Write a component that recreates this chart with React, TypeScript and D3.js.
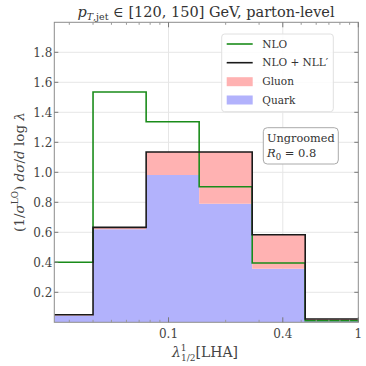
import React from "react";
import * as d3 from "d3";

const binEdges = [0.025, 0.04, 0.0762, 0.145, 0.276, 0.525, 1];
const nloValues = [0.4, 1.535, 1.337, 0.904, 0.395, 0.01];
const nllValues = [0.05, 0.633, 1.135, 1.135, 0.584, 0.022];
const quarkValues = [0.045, 0.62, 0.982, 0.79, 0.357, 0.015];
const gluonValues = [0.005, 0.013, 0.153, 0.345, 0.227, 0.007];
const yTicks = [0.2, 0.4, 0.6, 0.8, 1.0, 1.2, 1.4, 1.6, 1.8];
const xMajorTicks = [0.1, 0.4, 1];
const xTickLabels = ["0.1", "0.4", "1"];
const xMinorTicks = [0.03, 0.04, 0.05, 0.06, 0.07, 0.08, 0.09, 0.2, 0.3, 0.5, 0.6, 0.7, 0.8, 0.9];

const W = 366, H = 366;
const M = { left: 54.3, right: 358.3, top: 22.3, bottom: 322.3 };
const FONT = "DejaVu Serif";

export default function App() {
  const x = d3.scaleLog().domain([0.025, 1]).range([M.left, M.right]);
  const y = d3.scaleLinear().domain([0, 2.0]).range([M.bottom, M.top]);

  type P = { e: number; v: number; b?: number };
  const stepPts = (vals: number[], base?: number[]): P[] => {
    const pts: P[] = vals.map((v, i) => ({ e: binEdges[i], v, b: base ? base[i] : 0 }));
    pts.push({ e: binEdges[binEdges.length - 1], v: vals[vals.length - 1], b: base ? base[base.length - 1] : 0 });
    return pts;
  };
  const line = d3.line<P>().x(d => x(d.e)).y(d => y(d.v)).curve(d3.curveStepAfter);
  const area = d3.area<P>().x(d => x(d.e)).y0(d => y(d.b || 0)).y1(d => y(d.v)).curve(d3.curveStepAfter);

  const stackedTop = quarkValues.map((q, i) => q + gluonValues[i]);
  const ts = { fontFamily: FONT };

  return (
    <svg width={W} height={H} style={{ position: "absolute", left: 0, top: 0, fontFamily: FONT }}>
      <rect x={0} y={0} width={W} height={H} fill="#fff" />
      <defs>
        <clipPath id="plotclip">
          <rect x={M.left} y={M.top} width={M.right - M.left} height={M.bottom - M.top} />
        </clipPath>
      </defs>
      {yTicks.map(t => (
        <line key={"gy" + t} x1={M.left} x2={M.right} y1={y(t)} y2={y(t)} stroke="#e6e6e6" strokeWidth={1} />
      ))}
      {xMajorTicks.slice(0, 2).map(t => (
        <line key={"gx" + t} x1={x(t)} x2={x(t)} y1={M.top} y2={M.bottom} stroke="#e6e6e6" strokeWidth={1} />
      ))}
      <g clipPath="url(#plotclip)">
        <path d={area(stepPts(quarkValues)) || ""} fill="rgb(178,178,252)" />
        <path d={area(stepPts(stackedTop, quarkValues)) || ""} fill="rgb(255,178,178)" />
        <path d={line(stepPts(nloValues)) || ""} fill="none" stroke="#1a8c1a" strokeWidth={1.6} />
        <path d={line(stepPts(nllValues)) || ""} fill="none" stroke="#1a1a1a" strokeWidth={1.6} />
      </g>
      <rect x={M.left} y={M.top} width={M.right - M.left} height={M.bottom - M.top} fill="none" stroke="#8c8c8c" strokeWidth={1} />
      {yTicks.map(t => (
        <g key={"yt" + t}>
          <line x1={M.left} x2={M.left + 4} y1={y(t)} y2={y(t)} stroke="#777" />
          <line x1={M.right} x2={M.right - 4} y1={y(t)} y2={y(t)} stroke="#777" />
          <text style={ts} x={M.left - 2} y={y(t)} dy="0.35em" textAnchor="end" fontSize={12} fill="#444">{t.toFixed(1)}</text>
        </g>
      ))}
      {xMajorTicks.map((t, i) => (
        <g key={"xt" + t}>
          <line x1={x(t)} x2={x(t)} y1={M.bottom} y2={M.bottom - 5} stroke="#777" />
          <line x1={x(t)} x2={x(t)} y1={M.top} y2={M.top + 5} stroke="#777" />
          <text style={ts} x={x(t)} y={M.bottom + 16} textAnchor="middle" fontSize={12} fill="#444">{xTickLabels[i]}</text>
        </g>
      ))}
      {xMinorTicks.map(t => (
        <g key={"xm" + t}>
          <line x1={x(t)} x2={x(t)} y1={M.bottom} y2={M.bottom - 2.5} stroke="#999" />
          <line x1={x(t)} x2={x(t)} y1={M.top} y2={M.top + 2.5} stroke="#999" />
        </g>
      ))}
      <text style={ts} x={206} y={17} textAnchor="middle" fontSize={14.5} fill="#333">
        <tspan fontStyle="italic">p</tspan>
        <tspan fontSize={9.5} dy={3}><tspan fontStyle="italic">T</tspan>,jet</tspan>
        <tspan dy={-3}> ∈ [120, 150] GeV, parton-level</tspan>
      </text>
      <text style={ts} x={205} y={357} textAnchor="middle" fontSize={14} fill="#444">
        <tspan fontStyle="italic">λ</tspan>
        <tspan fontSize={9} dy={-6}>1</tspan>
        <tspan fontSize={9} dx={-5.5} dy={10}>1/2</tspan>
        <tspan dy={-4}>[LHA]</tspan>
      </text>
      <text style={ts} transform={`translate(24,172) rotate(-90)`} textAnchor="middle" fontSize={13.5} fill="#444">
        <tspan>(1/</tspan>
        <tspan fontStyle="italic">σ</tspan>
        <tspan fontSize={9} dy={-6}>LO</tspan>
        <tspan dy={6}>) </tspan>
        <tspan fontStyle="italic">dσ</tspan>
        <tspan>/</tspan>
        <tspan fontStyle="italic">d</tspan>
        <tspan> log </tspan>
        <tspan fontStyle="italic">λ</tspan>
      </text>
      <rect x={221.7} y={34} width={111.6} height={77.7} rx={3} fill="rgba(255,255,255,0.85)" stroke="#e0e0e0" />
      <line x1={226.7} x2={252.7} y1={44} y2={44} stroke="#1a8c1a" strokeWidth={1.6} />
      <text style={ts} x={262.3} y={44} dy="0.35em" fontSize={10.5} fill="#333">NLO</text>
      <line x1={226.7} x2={252.7} y1={62.7} y2={62.7} stroke="#1a1a1a" strokeWidth={1.6} />
      <text style={ts} x={262.3} y={62.7} dy="0.35em" fontSize={10.5} fill="#333">NLO + NLL′</text>
      <rect x={226.7} y={77.2} width={26} height={9} fill="rgb(255,178,178)" />
      <text style={ts} x={262.3} y={81.7} dy="0.35em" fontSize={10.5} fill="#333">Gluon</text>
      <rect x={226.7} y={95.5} width={26} height={9} fill="rgb(178,178,252)" />
      <text style={ts} x={262.3} y={100} dy="0.35em" fontSize={10.5} fill="#333">Quark</text>
      <rect x={263.3} y={127.7} width={75} height={36.3} rx={4} fill="#fff" stroke="#aaa" />
      <text style={ts} x={267} y={138.5} dy="0.35em" fontSize={11.3} fill="#333">Ungroomed</text>
      <text style={ts} x={267} y={153} dy="0.35em" fontSize={11.5} fill="#333">
        <tspan fontStyle="italic">R</tspan>
        <tspan fontSize={8.5} dy={3}>0</tspan>
        <tspan dy={-3}> = 0.8</tspan>
      </text>
    </svg>
  );
}
